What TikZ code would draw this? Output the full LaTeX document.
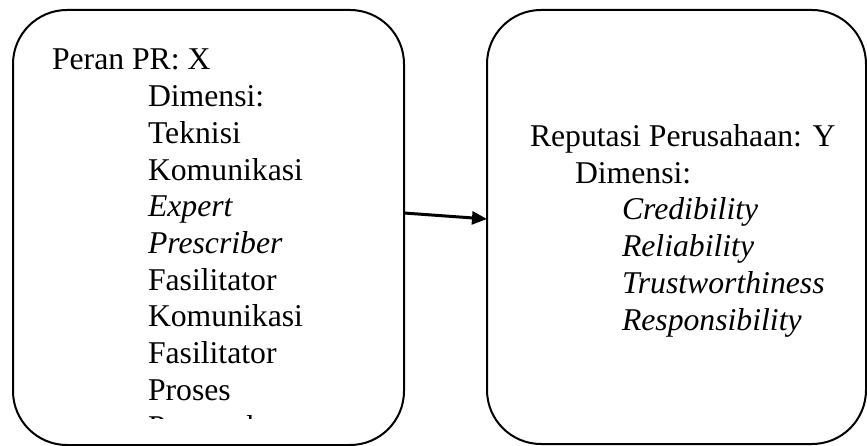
\documentclass[tikz,border=0pt]{standalone}
\usepackage{fontspec}
\setmainfont{Liberation Serif}
\usetikzlibrary{arrows.meta}
\begin{document}
\begin{tikzpicture}[x=1pt,y=-1pt,
  box/.style={draw, line width=2pt, rounded corners=54pt, inner sep=0pt, outer sep=0pt},
  txt/.style={anchor=base west, inner sep=0pt, outer sep=0pt, font=\fontsize{31.7}{36.7}\selectfont},
  link/.style={line width=3pt, -{Triangle[length=15pt,width=13pt]}}]
\useasboundingbox (0,0) rectangle (867,446);
\node[box, minimum width=391pt, minimum height=435pt] (L) at (208.5,227.5) {};
\node[box, minimum width=379pt, minimum height=434pt] (R) at (676.5,227) {};
\begin{scope}
\clip (0,0) rectangle (867,418);
\node[txt] (l0) at (52,70) {Peran PR: X};
\node[txt] (l1) at (148,106.7) {Dimensi:};
\node[txt] (l2) at (148,143.4) {Teknisi};
\node[txt] (l3) at (148,180.1) {Komunikasi};
\node[txt] (l4) at (148,216.8) {\itshape Expert};
\node[txt] (l5) at (148,253.5) {\itshape Prescriber};
\node[txt] (l6) at (148,290.2) {Fasilitator};
\node[txt] (l7) at (148,326.9) {Komunikasi};
\node[txt] (l8) at (148,363.6) {Fasilitator};
\node[txt] (l9) at (148,400.3) {Proses};
\node[txt] (l10) at (148,437) {Pemecah};
\end{scope}
\node[txt] (r0) at (530,146.5) {Reputasi Perusahaan: Y};
\node[txt] (r1) at (575,183.2) {Dimensi:};
\node[txt] (r2) at (622,219.9) {\itshape Credibility};
\node[txt] (r3) at (622,256.6) {\itshape Reliability};
\node[txt] (r4) at (622,293.3) {\itshape Trustworthiness};
\node[txt] (r5) at (622,330) {\itshape Responsibility};
\draw[link] ([yshift=14.5pt]L.east) -- ([yshift=8pt]R.west);
\end{tikzpicture}
\end{document}
